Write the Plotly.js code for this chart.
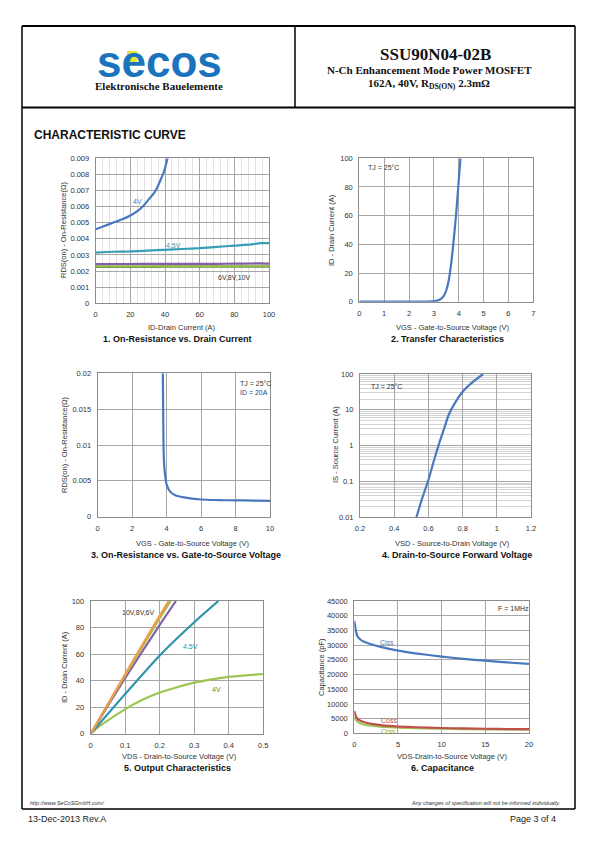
<!DOCTYPE html>
<html>
<head>
<meta charset="utf-8">
<script src="https://cdn.plot.ly/plotly-3.0.1.min.js"></script>
<style>html,body{margin:0;padding:0;background:#fff;}#chart{width:595px;height:842px;}</style>
</head>
<body>
<div id="chart"></div>
<script>
// ---------- DATA ----------
// 1. On-Resistance vs. Drain Current
const c1_id_4v = [0, 5, 10, 15, 20, 25, 28, 31, 34, 36, 38, 39.5, 40.5, 41.5];
const c1_rds_4v = [0.0046, 0.0048, 0.0050, 0.0052, 0.00545, 0.0058, 0.0061, 0.0065, 0.0069, 0.0073, 0.0078, 0.0082, 0.0086, 0.0090];
const c1_id = [0, 10, 20, 30, 40, 50, 60, 70, 80, 90, 95, 100];
const c1_rds_45v = [0.00315, 0.0032, 0.00322, 0.00327, 0.00332, 0.00337, 0.00342, 0.0035, 0.00358, 0.00366, 0.00373, 0.00373];
const c1_rds_6v = [0.00243, 0.00244, 0.00244, 0.00245, 0.00245, 0.00245, 0.00245, 0.00245, 0.00246, 0.00247, 0.00248, 0.00246];
const c1_rds_8v = [0.00230, 0.00230, 0.00230, 0.00230, 0.00231, 0.00231, 0.00231, 0.00231, 0.00231, 0.00232, 0.00232, 0.00231];
const c1_rds_10v = [0.00226, 0.00226, 0.00226, 0.00226, 0.00227, 0.00227, 0.00227, 0.00227, 0.00227, 0.00228, 0.00228, 0.00227];

// 2. Transfer Characteristics
const c2_vgs = [0, 1, 2, 2.6, 2.9, 3.1, 3.25, 3.4, 3.5, 3.6, 3.7, 3.78, 3.89, 3.98, 4.07];
const c2_id = [0, 0, 0, 0.05, 0.2, 0.6, 1.5, 4, 8, 15, 27, 40, 60, 80, 100];

// 3. On-Resistance vs. Gate-to-Source Voltage
const c3_vgs = [3.78, 3.8, 3.82, 3.85, 3.9, 4.0, 4.2, 4.5, 5, 6, 7, 8, 9, 10];
const c3_rds = [0.02, 0.015, 0.01, 0.0075, 0.006, 0.0045, 0.0035, 0.003, 0.0027, 0.0024, 0.00232, 0.00228, 0.00225, 0.00222];

// 4. Drain-to-Source Forward Voltage
const c4_vsd = [0.53, 0.56, 0.6, 0.63, 0.66, 0.69, 0.72, 0.76, 0.8, 0.85, 0.92];
const c4_is = [0.01, 0.03, 0.11, 0.35, 1.05, 2.8, 7.5, 17, 32, 55, 100];

// 5. Output Characteristics
const c5_vds_4v = [0, 0.02, 0.05, 0.1, 0.15, 0.2, 0.25, 0.3, 0.35, 0.4, 0.45, 0.5];
const c5_id_4v = [0, 4.5, 10, 18.5, 25.5, 31, 35, 38.5, 41, 42.8, 44, 45];
const c5_vds_45v = [0, 0.1, 0.2, 0.3, 0.37];
const c5_id_45v = [0, 30, 59, 84, 100];
const c5_vds_6v = [0, 0.1, 0.2, 0.247];
const c5_id_6v = [0, 42, 82, 100];
const c5_vds_8v = [0, 0.1, 0.2, 0.232];
const c5_id_8v = [0, 44, 87, 100];
const c5_vds_10v = [0, 0.1, 0.2, 0.226];
const c5_id_10v = [0, 45, 89, 100];

// 6. Capacitance
const c6_vds = [0, 0.1, 0.2, 0.4, 0.7, 1, 1.5, 2, 3, 4, 5, 7, 10, 12.5, 15, 17.5, 20];
const c6_ciss = [38200, 36500, 34500, 32800, 31900, 31300, 30700, 30200, 29400, 28700, 28100, 27200, 26100, 25300, 24700, 24100, 23600];
const c6_coss = [7600, 6500, 5700, 4900, 4300, 3900, 3500, 3200, 2800, 2500, 2300, 2050, 1800, 1650, 1550, 1450, 1400];
const c6_crss = [5600, 5000, 4500, 3900, 3400, 3100, 2800, 2600, 2300, 2100, 1950, 1750, 1600, 1450, 1350, 1300, 1250];

// ---------- LAYOUT HELPERS ----------
const W = 595, H = 842;
const PX = v => v / W;
const PY = v => 1 - v / H;
const SANS = 'Liberation Sans, Arial, sans-serif';
const SERIF = 'Liberation Serif, Times New Roman, serif';

function ax(d0, d1, range, dtick, extra) {
  return Object.assign({
    domain: [d0, d1], range: range, dtick: dtick, tick0: 0,
    showgrid: true, gridcolor: '#a6a6a6', gridwidth: 1,
    zeroline: false, showline: true, linecolor: '#8c8c8c', linewidth: 1, mirror: true,
    ticks: '', ticklabelstandoff: 4,
    tickfont: {family: SANS, size: 7.5, color: '#333'},
    fixedrange: true
  }, extra || {});
}

function line(x, y, color, xa, ya, w) {
  return {x: x, y: y, type: 'scatter', mode: 'lines', xaxis: xa, yaxis: ya,
    line: {color: color, width: w || 2.2, shape: 'spline', smoothing: 0.6}, hoverinfo: 'skip'};
}

const traces = [
  line(c1_id, c1_rds_10v, '#6f8f3c', 'x', 'y'),
  line(c1_id, c1_rds_8v, '#97bb4f', 'x', 'y'),
  line(c1_id, c1_rds_6v, '#7e60a6', 'x', 'y'),
  line(c1_id, c1_rds_45v, '#3a9db6', 'x', 'y'),
  line(c1_id_4v, c1_rds_4v, '#4a78bf', 'x', 'y'),
  line(c2_vgs, c2_id, '#4a78bf', 'x2', 'y2'),
  line(c3_vgs, c3_rds, '#4a78bf', 'x3', 'y3'),
  line(c4_vsd, c4_is, '#4a78bf', 'x4', 'y4'),
  line(c5_vds_4v, c5_id_4v, '#9cc451', 'x5', 'y5'),
  line(c5_vds_45v, c5_id_45v, '#2f93ae', 'x5', 'y5'),
  line(c5_vds_6v, c5_id_6v, '#7e60a6', 'x5', 'y5'),
  line(c5_vds_8v, c5_id_8v, '#9cc451', 'x5', 'y5'),
  line(c5_vds_10v, c5_id_10v, '#f49a4a', 'x5', 'y5'),
  line(c6_vds, c6_crss, '#9cc451', 'x6', 'y6'),
  line(c6_vds, c6_coss, '#c0504d', 'x6', 'y6'),
  line(c6_vds, c6_ciss, '#4a78bf', 'x6', 'y6')
];

function t(x, y, text, size, o) {
  return Object.assign({x: PX(x), y: PY(y), xref: 'paper', yref: 'paper', text: text, showarrow: false,
    xanchor: 'center', yanchor: 'middle', font: {family: SANS, size: size, color: '#222'}}, o || {});
}
function d(xa, ya, x, y, text, color, o) {
  return Object.assign({x: x, y: y, xref: xa, yref: ya, text: text, showarrow: false,
    xanchor: 'center', yanchor: 'middle', font: {family: SANS, size: 7, color: color}}, o || {});
}
function vt(x, y, text) {
  return t(x, y, text, 7.5, {textangle: -90, font: {family: SANS, size: 7.5, color: '#333'}});
}
const xt = (x, y, text) => t(x, y, text, 7.5, {font: {family: SANS, size: 7.5, color: '#333'}});
const ct = (x, y, text) => t(x, y, text, 9, {font: {family: SANS, size: 9, color: '#111'}});

const annotations = [
  // header
  t(159, 61, '<b>secos</b>', 44, {font: {family: SANS, size: 44, color: '#1a74bd'}}),
  t(159, 85.5, '<b>Elektronische Bauelemente</b>', 11, {font: {family: SERIF, size: 11, color: '#111'}}),
  t(436, 55, '<b>SSU90N04-02B</b>', 17, {font: {family: SERIF, size: 17, color: '#111'}}),
  t(429, 70, '<b>N-Ch Enhancement Mode Power MOSFET</b>', 11, {font: {family: SERIF, size: 11, color: '#111'}}),
  t(429, 84, '<b>162A, 40V, R<sub>DS(ON)</sub> 2.3mΩ</b>', 11, {font: {family: SERIF, size: 11, color: '#111'}}),
  t(32, 135, '<b>CHARACTERISTIC CURVE</b>', 12, {xanchor: 'left', font: {family: SANS, size: 12, color: '#111'}}),
  // chart 1
  vt(63, 230, 'RDS(on) - On-Resistance(Ω)'),
  xt(182, 327.5, 'ID-Drain Current (A)'),
  ct(177, 338.5, '<b>1. On-Resistance vs. Drain Current</b>'),
  d('x', 'y', 24, 0.0063, '4V', '#4a78bf'),
  d('x', 'y', 45, 0.0036, '4.5V', '#3a9db6'),
  d('x', 'y', 80, 0.00162, '6V,8V,10V', '#333'),
  // chart 2
  vt(331, 230, 'ID - Drain Current (A)'),
  xt(452, 327.5, 'VGS - Gate-to-Source Voltage (V)'),
  ct(447, 338.5, '<b>2. Transfer Characteristics</b>'),
  d('x2', 'y2', 0.97, 93.5, 'TJ = 25°C', '#333'),
  // chart 3
  vt(64, 445, 'RDS(on) - On-Resistance(Ω)'),
  xt(192, 543, 'VGS - Gate-to-Source Voltage (V)'),
  ct(186, 555, '<b>3. On-Resistance vs. Gate-to-Source Voltage</b>'),
  d('x3', 'y3', 8.15, 0.0186, 'TJ = 25°C', '#333', {xanchor: 'left'}),
  d('x3', 'y3', 8.15, 0.0173, 'ID = 20A', '#2b4a8a', {xanchor: 'left'}),
  // chart 4
  vt(335, 445, 'IS - Source Current (A)'),
  xt(452, 543, 'VSD - Source-to-Drain Voltage (V)'),
  ct(457, 555, '<b>4. Drain-to-Source Forward Voltage</b>'),
  d('x4', 'y4', 0.357, 1.66, 'TJ = 25°C', '#333'),
  // chart 5
  vt(64, 667, 'ID - Drain Current (A)'),
  xt(179, 756.5, 'VDS - Drain-to-Source Voltage (V)'),
  ct(177.5, 768, '<b>5. Output Characteristics</b>'),
  d('x5', 'y5', 0.138, 91, '10V,8V,6V', '#333'),
  d('x5', 'y5', 0.288, 66, '4.5V', '#2f93ae'),
  d('x5', 'y5', 0.365, 33, '4V', '#6a8a30'),
  // chart 6
  vt(321, 667, 'Capacitance (pF)'),
  xt(452.5, 756.5, 'VDS-Drain-to-Source Voltage (V)'),
  ct(442, 768, '<b>6. Capacitance</b>'),
  d('x6', 'y6', 18.2, 42300, 'F = 1MHz', '#333'),
  d('x6', 'y6', 3.8, 31000, 'Ciss', '#4a78bf'),
  d('x6', 'y6', 4.0, 4500, 'Coss', '#c0504d'),
  d('x6', 'y6', 3.9, 700, 'Crss', '#7fa63a'),
  // footer
  t(28, 803, '<i>http://www.SeCoSGmbH.com/</i>', 5.5, {xanchor: 'left', font: {family: SANS, size: 5.5, color: '#333'}}),
  t(562, 803, '<i>Any changes of specification will not be informed individually.</i>', 5.5, {xanchor: 'right', font: {family: SANS, size: 5.5, color: '#333'}}),
  t(26, 819, '13-Dec-2013 Rev.A', 9, {xanchor: 'left', font: {family: SANS, size: 9, color: '#222'}}),
  t(558, 819, 'Page 3 of 4', 9, {xanchor: 'right', font: {family: SANS, size: 9, color: '#222'}})
];

function ln(x0, y0, x1, y1, w) {
  return {type: 'line', xref: 'paper', yref: 'paper', x0: PX(x0), y0: PY(y0), x1: PX(x1), y1: PY(y1),
    line: {color: '#000', width: w}};
}
const shapes = [
  ln(22, 26, 575, 26, 2),
  ln(22, 26, 22, 809, 1.5),
  ln(575, 26, 575, 809, 1.5),
  ln(22, 107.5, 575, 107.5, 2),
  ln(295, 26, 295, 107.5, 1.5),
  ln(22, 809, 575, 809, 1.5),
  {type: 'rect', xref: 'paper', yref: 'paper', x0: PX(127), y0: PY(62), x1: PX(137), y1: PY(51),
    fillcolor: '#e4e43a', line: {width: 0}, layer: 'below'}
];

const layout = {
  width: W, height: H, margin: {l: 0, r: 0, t: 0, b: 0},
  paper_bgcolor: '#fff', plot_bgcolor: 'rgba(0,0,0,0)', showlegend: false,
  xaxis: ax(PX(95.7), PX(269), [0, 100], 20, {anchor: 'y', minor: {dtick: 4, showgrid: true, gridcolor: '#e2e2e2'}}),
  yaxis: ax(PY(303.3), PY(158.3), [0, 0.009], 0.001, {anchor: 'x'}),
  xaxis2: ax(PX(359.3), PX(533.3), [0, 7], 1, {anchor: 'y2'}),
  yaxis2: ax(PY(301.7), PY(158.3), [0, 100], 20, {anchor: 'x2'}),
  xaxis3: ax(PX(97.7), PX(270), [0, 10], 2, {anchor: 'y3'}),
  yaxis3: ax(PY(516.7), PY(373.3), [0, 0.02], 0.005, {anchor: 'x3'}),
  xaxis4: ax(PX(360), PX(531), [0.2, 1.2], 0.2, {anchor: 'y4', tick0: 0.2}),
  yaxis4: ax(PY(517.3), PY(374), [-2, 2], 1, {anchor: 'x4', type: 'log',
    tickvals: [0.01, 0.1, 1, 10, 100], ticktext: ['0.01', '0.1', '1', '10', '100'],
    minor: {dtick: 'D1', showgrid: true, gridcolor: '#d4d4d4'}}),
  xaxis5: ax(PX(90.7), PX(263.3), [0, 0.5], 0.1, {anchor: 'y5'}),
  yaxis5: ax(PY(733.7), PY(601), [0, 100], 20, {anchor: 'x5'}),
  xaxis6: ax(PX(354.3), PX(529), [0, 20], 5, {anchor: 'y6'}),
  yaxis6: ax(PY(733.3), PY(601), [0, 45000], 5000, {anchor: 'x6', tickformat: 'd'}),
  annotations: annotations,
  shapes: shapes
};

Plotly.newPlot('chart', traces, layout, {staticPlot: true, displayModeBar: false});
</script>
</body>
</html>
